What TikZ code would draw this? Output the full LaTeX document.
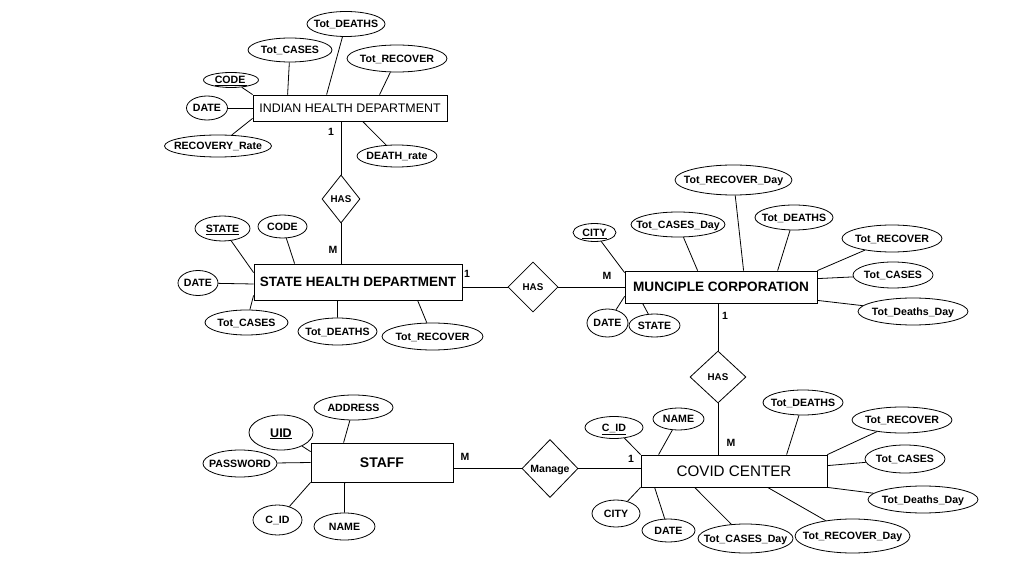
\documentclass[tikz,border=0pt]{standalone}
\usepackage{fontspec}
\setmainfont{Liberation Sans}
\usetikzlibrary{shapes.geometric,shadows}
\newcommand\atx[1]{\makebox[0pt]{\raisebox{-.36em}[0pt][0pt]{#1}}}
\begin{document}
\begin{tikzpicture}[x=1pt,y=-1pt,line width=0.8pt,
  ent/.style={draw, rectangle, inner sep=0pt},
  rel/.style={draw, diamond, inner sep=0pt, font=\bfseries\fontsize{9.8}{11}\selectfont},
  attr/.style={draw, ellipse, inner sep=0pt, font=\bfseries\fontsize{10.6}{12}\selectfont},
  card/.style={font=\bfseries\fontsize{10.5}{12}\selectfont, inner sep=0pt},
]
\useasboundingbox (0,0) rectangle (1018,569);
\fill[white] (0,0) rectangle (1018,569);

% ---------- entities ----------
\node[ent, minimum width=194pt, minimum height=26pt, fill=white,
      drop shadow={fill=gray!55, shadow xshift=1pt, shadow yshift=-1.5pt},
      font=\fontsize{12.4}{14}\selectfont] (ihd) at (350,108) {\atx{INDIAN HEALTH DEPARTMENT}};
\node[ent, minimum width=208pt, minimum height=36pt, font=\bfseries\fontsize{13.5}{15}\selectfont] (shd) at (358,282) {\atx{STATE HEALTH DEPARTMENT}};
\node[ent, minimum width=192pt, minimum height=32pt, font=\bfseries\fontsize{13.6}{15}\selectfont] (mc) at (721,287) {\atx{MUNCIPLE CORPORATION}};
\node[ent, minimum width=186pt, minimum height=32pt, font=\fontsize{15.2}{17}\selectfont] (cc) at (734,471) {\atx{COVID CENTER}};
\node[ent, minimum width=142pt, minimum height=39pt, font=\bfseries\fontsize{14}{16}\selectfont] (staff) at (382,462.5) {\atx{STAFF}};

% ---------- relationships ----------
\node[rel, minimum width=38pt, minimum height=48pt] (has1) at (341,199) {\atx{HAS}};
\node[rel, minimum width=50pt, minimum height=50pt] (has2) at (533,287) {\atx{HAS}};
\node[rel, minimum width=56pt, minimum height=52pt] (has3) at (718,377) {\atx{HAS}};
\node[rel, minimum width=56pt, minimum height=58pt, font=\bfseries\fontsize{10.5}{12}\selectfont] (manage) at (550,468.5) {\atx{Manage}};

\draw (has1.north) -- (has1.north |- ihd.south);
\draw (has1.south) -- (has1.south |- shd.north);
\draw (has2.west) -- (has2.west -| shd.east);
\draw (has2.east) -- (has2.east -| mc.west);
\draw (has3.north) -- (has3.north |- mc.south);
\draw (has3.south) -- (has3.south |- cc.north);
\draw (manage.west) -- (manage.west -| staff.east);
\draw (manage.east) -- (manage.east -| cc.west);

% cardinalities
\node[card] (c1) at (331,132) {1};
\node[card] (c2) at (333,250) {M};
\node[card] (c3) at (467,274) {1};
\node[card] (c4) at (607,276) {M};
\node[card] (c5) at (725,316) {1};
\node[card] (c6) at (731,443) {M};
\node[card] (c7) at (465,457) {M};
\node[card] (c8) at (631,459) {1};

% ---------- IHD attributes ----------
\node[attr, minimum width=78pt, minimum height=25pt] (iTD) at (346,24) {\atx{Tot\_DEATHS}};
\node[attr, minimum width=84pt, minimum height=24pt] (iTC) at (290,50) {\atx{Tot\_CASES}};
\node[attr, minimum width=100pt, minimum height=27pt] (iTR) at (397,58.5) {\atx{Tot\_RECOVER}};
\node[attr, minimum width=55pt, minimum height=15pt] (iCO) at (231,80) {\atx{\underline{CODE\,}}};
\node[attr, minimum width=41pt, minimum height=24pt] (iDA) at (207,108) {\atx{DATE}};
\node[attr, minimum width=107pt, minimum height=22pt] (iRR) at (218,146) {\atx{RECOVERY\_Rate}};
\node[attr, minimum width=80pt, minimum height=22pt] (iDR) at (397,156) {\atx{DEATH\_rate}};
\draw (iTD) -- ([xshift=74pt]ihd.north west);
\draw (iTC) -- ([xshift=35pt]ihd.north west);
\draw (iTR) -- ([xshift=127pt]ihd.north west);
\draw (iCO) -- (ihd.north west);
\draw (iDA) -- (ihd.west);
\draw (iRR) -- ([yshift=3pt]ihd.south west);
\draw (iDR) -- ([xshift=110pt]ihd.south west);

% ---------- SHD attributes ----------
\node[attr, minimum width=55pt, minimum height=25pt] (sST) at (222.5,228.5) {\atx{\underline{STATE}}};
\node[attr, minimum width=49pt, minimum height=23pt] (sCO) at (282.5,226.5) {\atx{CODE}};
\node[attr, minimum width=40pt, minimum height=25pt] (sDA) at (198,283) {\atx{DATE}};
\node[attr, minimum width=83pt, minimum height=25pt] (sTC) at (246.5,322.5) {\atx{Tot\_CASES}};
\node[attr, minimum width=79pt, minimum height=27pt] (sTD) at (337.5,331.5) {\atx{Tot\_DEATHS}};
\node[attr, minimum width=101pt, minimum height=27pt] (sTR) at (432.5,336.5) {\atx{Tot\_RECOVER}};
\draw (sST) -- ([yshift=-9pt]shd.north west);
\draw (sCO) -- ([xshift=41pt]shd.north west);
\draw (sDA) -- ([yshift=-2pt]shd.west);
\draw (sTC) -- ([yshift=5pt]shd.south west);
\draw (sTD) -- ([xshift=84pt]shd.south west);
\draw (sTR) -- ([xshift=164pt]shd.south west);

% ---------- MC attributes ----------
\node[attr, minimum width=43pt, minimum height=18pt] (mCI) at (594.5,232.5) {\atx{\underline{CITY}}};
\node[attr, minimum width=94pt, minimum height=25pt] (mTCD) at (678,224.5) {\atx{Tot\_CASES\_Day}};
\node[attr, minimum width=117pt, minimum height=30pt] (mTRD) at (733.5,180) {\atx{Tot\_RECOVER\_Day}};
\node[attr, minimum width=78pt, minimum height=25pt] (mTD) at (794,217.5) {\atx{Tot\_DEATHS}};
\node[attr, minimum width=100pt, minimum height=27pt] (mTR) at (892,238.5) {\atx{Tot\_RECOVER}};
\node[attr, minimum width=80pt, minimum height=26pt] (mTC) at (893,275) {\atx{Tot\_CASES}};
\node[attr, minimum width=110pt, minimum height=27pt] (mTDD) at (913,311.5) {\atx{Tot\_Deaths\_Day}};
\node[attr, minimum width=41pt, minimum height=28pt] (mDA) at (607.5,323) {\atx{DATE}};
\node[attr, minimum width=51pt, minimum height=23pt] (mST) at (654.5,325.5) {\atx{STATE}};
\draw (mCI) -- ([yshift=-2pt]mc.north west);
\draw (mTCD) -- ([xshift=73pt]mc.north west);
\draw (mTRD) -- ([xshift=119pt]mc.north west);
\draw (mTD) -- ([xshift=153pt]mc.north west);
\draw (mTR) -- (mc.north east);
\draw (mTC) -- ([yshift=-8pt]mc.north east);
\draw (mTDD) -- ([yshift=3pt]mc.south east);
\draw (mDA) -- ([yshift=7pt]mc.south west);
\draw (mST) -- ([xshift=18pt]mc.south west);

% ---------- CC attributes ----------
\node[attr, minimum width=58pt, minimum height=22pt] (cCI) at (614,427.5) {\atx{\underline{C\_ID}}};
\node[attr, minimum width=51pt, minimum height=22pt] (cNA) at (678.5,419) {\atx{NAME}};
\node[attr, minimum width=80pt, minimum height=25pt] (cTD) at (803,402.5) {\atx{Tot\_DEATHS}};
\node[attr, minimum width=100pt, minimum height=26pt] (cTR) at (902,420) {\atx{Tot\_RECOVER}};
\node[attr, minimum width=80pt, minimum height=28pt] (cTC) at (905,459) {\atx{Tot\_CASES}};
\node[attr, minimum width=110pt, minimum height=27pt] (cTDD) at (923,499.5) {\atx{Tot\_Deaths\_Day}};
\node[attr, minimum width=115pt, minimum height=34pt] (cTRD) at (852.5,536) {\atx{Tot\_RECOVER\_Day}};
\node[attr, minimum width=95pt, minimum height=29pt] (cTCD) at (745.5,538.5) {\atx{Tot\_CASES\_Day}};
\node[attr, minimum width=53pt, minimum height=23pt] (cDA) at (668.5,530.5) {\atx{DATE}};
\node[attr, minimum width=48pt, minimum height=27pt] (cCT) at (616,513.5) {\atx{CITY}};
\draw (cCI) -- (cc.north west);
\draw (cNA) -- ([xshift=18pt]cc.north west);
\draw (cTD) -- ([xshift=146pt]cc.north west);
\draw (cTR) -- (cc.north east);
\draw (cTC) -- ([yshift=-11pt]cc.north east);
\draw (cTDD) -- (cc.south east);
\draw (cTRD) -- ([xshift=127pt]cc.south west);
\draw (cTCD) -- ([xshift=54pt]cc.south west);
\draw (cDA) -- ([xshift=14pt]cc.south west);
\draw (cCT) -- (cc.south west);

% ---------- STAFF attributes ----------
\node[attr, minimum width=79pt, minimum height=25pt] (fAD) at (353.5,407.5) {\atx{ADDRESS}};
\node[attr, minimum width=64pt, minimum height=35pt, font=\bfseries\fontsize{12.5}{14}\selectfont] (fUID) at (281,432.5) {\atx{\underline{UID}}};
\node[attr, minimum width=74pt, minimum height=27pt] (fPW) at (240,463.5) {\atx{PASSWORD}};
\node[attr, minimum width=49pt, minimum height=30pt] (fCI) at (277.5,520) {\atx{C\_ID}};
\node[attr, minimum width=61pt, minimum height=27pt] (fNA) at (344.5,526.5) {\atx{NAME}};
\draw (fAD) -- ([xshift=33pt]staff.north west);
\draw (fUID) -- ([yshift=-9pt]staff.north west);
\draw (fPW) -- (staff.west);
\draw (fCI) -- (staff.south west);
\draw (fNA) -- ([xshift=34pt]staff.south west);
\end{tikzpicture}
\end{document}
